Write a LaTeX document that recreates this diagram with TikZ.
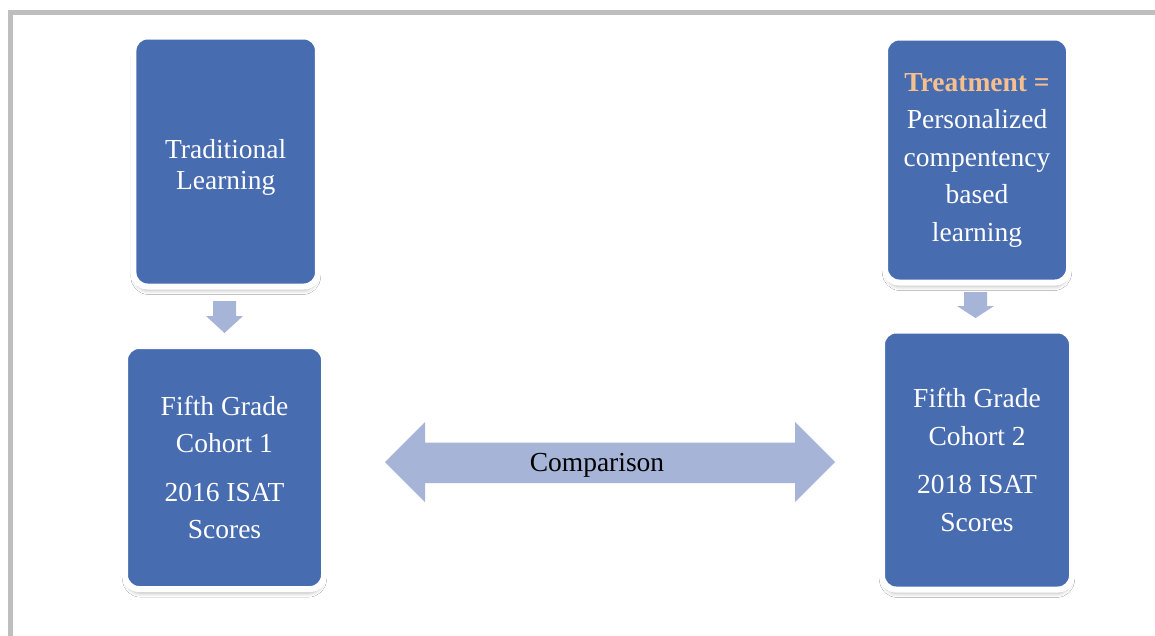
\documentclass[tikz,border=0pt]{standalone}
\usepackage{fontspec}
\setmainfont{Liberation Serif}
\usetikzlibrary{shadows.blur}
\definecolor{boxblue}{HTML}{486CB0}
\definecolor{arrowblue}{HTML}{A6B4D7}
\definecolor{treatcol}{HTML}{F5C08E}
\definecolor{framegray}{HTML}{BEBEBE}
\begin{document}
\begin{tikzpicture}[x=1pt,y=-1pt,
  blockbox/.style={draw=white, line width=6pt, fill=boxblue, rounded corners=14pt,
    text=white, align=center, inner sep=0pt,
    blur shadow={shadow xshift=0pt, shadow yshift=-6pt, shadow scale=0.985, shadow blur radius=4pt, shadow opacity=28}},
  boxfont/.style={font=\fontsize{27.5}{37.5}\selectfont},
  blockarrow/.style={fill=arrowblue, draw=none}
]
\useasboundingbox (0,0) rectangle (1155,635);
\fill[white] (0,0) rectangle (1155,635);
% frame
\draw[framegray, line width=5pt] (10.5,640) -- (10.5,12.5) -- (1160,12.5);

% boxes
\node[blockbox, font=\fontsize{27.5}{30.5}\selectfont, minimum width=184.5pt, minimum height=250pt] (trad) at (225.7,161.5)
  {\rule{0pt}{6pt}\\[-6pt]Traditional\\Learning};
\node[blockbox, boxfont, minimum width=199pt, minimum height=243pt] (coh1) at (224.5,467.5)
  {Fifth Grade\\Cohort 1\\[11pt]2016 ISAT\\Scores};
\node[blockbox, boxfont, minimum width=184pt, minimum height=245pt] (treat) at (977,160)
  {{\bfseries\color{treatcol}Treatment =}\\Personalized\\compentency\\based\\learning};
\node[blockbox, boxfont, minimum width=190pt, minimum height=259pt] (coh2) at (977,460)
  {Fifth Grade\\Cohort 2\\[11pt]2018 ISAT\\Scores};

% down arrows
\path[blockarrow] (213,301) -- (236,301) -- (236,316) -- (243,316) -- (224.5,333) -- (206,316) -- (213,316) -- cycle;
\path[blockarrow] (964,292) -- (987,292) -- (987,306) -- (994,306) -- (975.5,318) -- (957,306) -- (964,306) -- cycle;

% comparison double arrow
\path[blockarrow] (385,462) -- (425,422) -- (425,442.5) -- (795,442.5) -- (795,422) -- (835,462)
  -- (795,502) -- (795,483) -- (425,483) -- (425,502) -- cycle;
\node[anchor=base, font=\fontsize{27.5}{33}\selectfont, text=black, inner sep=0pt] (cmp) at (597,471) {Comparison};
\end{tikzpicture}
\end{document}
